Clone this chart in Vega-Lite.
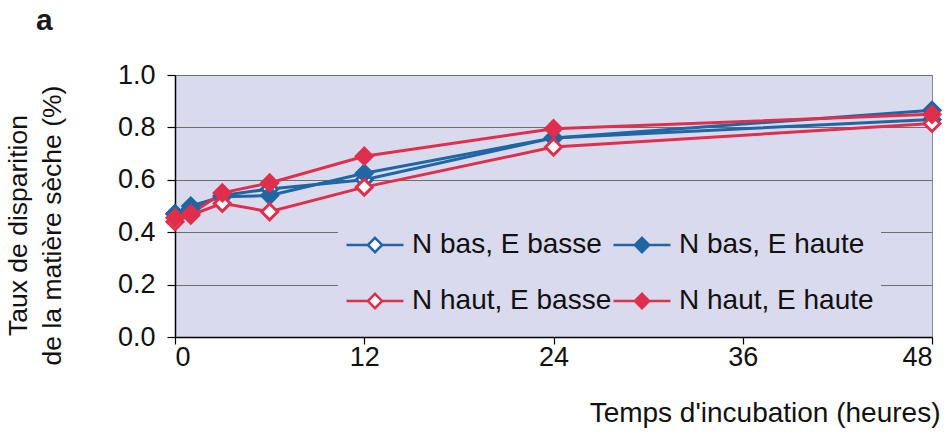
{
  "$schema": "https://vega.github.io/schema/vega-lite/v6.json",
  "width": 757,
  "height": 262,
  "autosize": "none",
  "padding": {"left": 175, "top": 75, "right": 20, "bottom": 102},
  "background": "white",
  "view": {"fill": "#dadaee", "stroke": "#8c8c8c", "strokeWidth": 1},
  "title": {"text": "a", "anchor": "start", "frame": "group", "dx": -139, "fontSize": 30, "fontWeight": "bold", "font": "Liberation Sans", "color": "#1a1a1a", "offset": 1, "baseline": "alphabetic"},
  "config": {
    "font": "Liberation Sans",
    "axis": {"labelFont": "Liberation Sans", "titleFont": "Liberation Sans", "labelColor": "#111", "titleColor": "#111", "titleFontWeight": "normal"}
  },
  "data": {"values": [
    {"t": 0, "v": 0.47, "s": "N bas, E basse"},
    {"t": 1, "v": 0.49, "s": "N bas, E basse"},
    {"t": 3, "v": 0.54, "s": "N bas, E basse"},
    {"t": 6, "v": 0.565, "s": "N bas, E basse"},
    {"t": 12, "v": 0.60, "s": "N bas, E basse"},
    {"t": 24, "v": 0.76, "s": "N bas, E basse"},
    {"t": 48, "v": 0.83, "s": "N bas, E basse"},
    {"t": 0, "v": 0.47, "s": "N bas, E haute"},
    {"t": 1, "v": 0.50, "s": "N bas, E haute"},
    {"t": 3, "v": 0.535, "s": "N bas, E haute"},
    {"t": 6, "v": 0.54, "s": "N bas, E haute"},
    {"t": 12, "v": 0.625, "s": "N bas, E haute"},
    {"t": 24, "v": 0.76, "s": "N bas, E haute"},
    {"t": 48, "v": 0.865, "s": "N bas, E haute"},
    {"t": 0, "v": 0.44, "s": "N haut, E basse"},
    {"t": 1, "v": 0.465, "s": "N haut, E basse"},
    {"t": 3, "v": 0.51, "s": "N haut, E basse"},
    {"t": 6, "v": 0.478, "s": "N haut, E basse"},
    {"t": 12, "v": 0.572, "s": "N haut, E basse"},
    {"t": 24, "v": 0.725, "s": "N haut, E basse"},
    {"t": 48, "v": 0.815, "s": "N haut, E basse"},
    {"t": 0, "v": 0.455, "s": "N haut, E haute"},
    {"t": 1, "v": 0.47, "s": "N haut, E haute"},
    {"t": 3, "v": 0.55, "s": "N haut, E haute"},
    {"t": 6, "v": 0.588, "s": "N haut, E haute"},
    {"t": 12, "v": 0.69, "s": "N haut, E haute"},
    {"t": 24, "v": 0.795, "s": "N haut, E haute"},
    {"t": 48, "v": 0.85, "s": "N haut, E haute"}
  ]},
  "encoding": {
    "x": {"field": "t", "type": "quantitative", "scale": {"domain": [0, 48], "nice": false},
      "axis": {"values": [0, 12, 24, 36, 48], "grid": false, "domainColor": "#000", "domainWidth": 1.5, "tickColor": "#000", "tickSize": 7, "tickWidth": 1.2,
        "labelFontSize": 27, "labelPadding": 0, "title": "Temps d'incubation (heures)", "titleFontSize": 28,
        "titleX": 765, "titleY": 84, "titleAlign": "right", "titleBaseline": "alphabetic"}},
    "y": {"field": "v", "type": "quantitative", "scale": {"domain": [0, 1], "nice": false},
      "axis": {"values": [0, 0.2, 0.4, 0.6, 0.8, 1.0], "format": ".1f", "grid": true, "gridColor": "#6e6e6e", "gridWidth": 1,
        "domainColor": "#000", "domainWidth": 1.5, "tickColor": "#000", "tickSize": 8, "tickWidth": 1.2,
        "labelFontSize": 27, "labelPadding": 12,
        "title": ["Taux de disparition", "de la matière sèche (%)"], "titleFontSize": 26.5, "titleLineHeight": 34,
        "titleAngle": -90, "titleX": -170, "titleY": 150, "titleAlign": "center", "titleBaseline": "top"}},
    "stroke": {"field": "s", "type": "nominal", "sort": null,
      "scale": {"domain": ["N bas, E basse", "N haut, E basse", "N bas, E haute", "N haut, E haute"], "range": ["#1f66a3", "#df2f4d", "#1f66a3", "#df2f4d"]},
      "legend": {"title": null, "orient": "none", "legendX": 163, "legendY": 133, "columns": 2, "columnPadding": -12, "rowPadding": 12,
        "symbolType": "M-1,0L-0.25,0M0.25,0L1,0M0,-0.25L0.25,0L0,0.25L-0.25,0Z", "symbolSize": 3249, "symbolStrokeWidth": 2.5,
        "labelFontSize": 28, "labelFont": "Liberation Sans", "labelColor": "#111", "labelOffset": 7, "labelLimit": 400,
        "fillColor": "#dadaee", "padding": 7}}
  },
  "layer": [
    {
      "mark": {"type": "line", "strokeWidth": 3}
    },
    {
      "mark": {"type": "point", "shape": "diamond", "size": 256, "strokeWidth": 3, "opacity": 1},
      "encoding": {
        "fill": {"field": "s", "type": "nominal", "sort": null,
          "scale": {"domain": ["N bas, E basse", "N haut, E basse", "N bas, E haute", "N haut, E haute"], "range": ["#ffffff", "#ffffff", "#1f66a3", "#df2f4d"]},
          "legend": {"title": null, "orient": "none", "legendX": 163, "legendY": 133, "columns": 2, "columnPadding": -12, "rowPadding": 12,
            "symbolType": "M-1,0L-0.25,0M0.25,0L1,0M0,-0.25L0.25,0L0,0.25L-0.25,0Z", "symbolSize": 3249, "symbolStrokeWidth": 2.5,
            "labelFontSize": 28, "labelFont": "Liberation Sans", "labelColor": "#111", "labelOffset": 7, "labelLimit": 400,
            "fillColor": "#dadaee", "padding": 7}}
      }
    }
  ]
}
